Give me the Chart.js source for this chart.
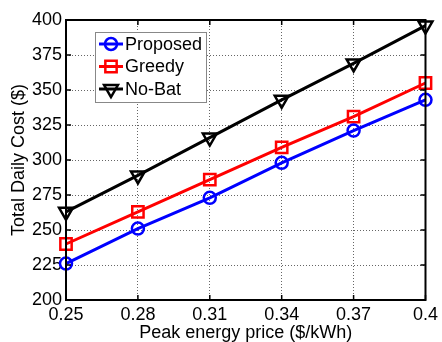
<!DOCTYPE html>
<html>
<head>
<meta charset="utf-8">
<script src="https://cdn.jsdelivr.net/npm/chart.js@4"></script>
<style>
  html, body { margin: 0; padding: 0; background: #fff; }
</style>
</head>
<body>
<canvas id="chart" width="442" height="342"></canvas>
<script>
// Peak energy price ($/kWh) on the x axis
const priceLabels = ['0.25', '0.28', '0.31', '0.34', '0.37', '0.4'];

// Total daily cost ($) per strategy
const proposedCost = [226, 251, 273, 298, 321, 343];
const greedyCost   = [240, 263, 286, 309, 331, 355];
const noBatCost    = [263, 289, 316, 343, 369, 396];

// y axis range
const yMin = 200;
const yMax = 400;
const yStep = 25;

const FONT = "'Liberation Sans', Arial, sans-serif";
Chart.defaults.font.family = FONT;
Chart.defaults.font.size = 18;
Chart.defaults.color = '#000';

// draw an open marker like the dataset does
function marker(ctx, ds, x, y) {
  ctx.save();
  ctx.lineWidth = ds.pointBorderWidth;
  ctx.strokeStyle = ds.borderColor;
  const r = ds.pointRadius;
  ctx.beginPath();
  if (ds.pointStyle === 'circle') {
    ctx.arc(x, y, r, 0, Math.PI * 2);
  } else if (ds.pointStyle === 'rect') {
    const s = r * Math.SQRT1_2;
    ctx.rect(x - s, y - s, 2 * s, 2 * s);
  } else {
    // upside-down triangle
    ctx.moveTo(x, y + r);
    ctx.lineTo(x - r * Math.sin(Math.PI / 3), y - r / 2);
    ctx.lineTo(x + r * Math.sin(Math.PI / 3), y - r / 2);
    ctx.closePath();
  }
  ctx.stroke();
  ctx.restore();
}

// black box round the plot with inward ticks
const framePlugin = {
  id: 'frame',
  afterDatasetsDraw(chart) {
    const { ctx, chartArea: a, scales } = chart;
    ctx.save();
    ctx.strokeStyle = '#000';
    ctx.lineWidth = 1.5;
    ctx.beginPath();
    scales.x.ticks.forEach((t, i) => {
      const px = scales.x.getPixelForTick(i);
      ctx.moveTo(px, a.bottom); ctx.lineTo(px, a.bottom - 5);
      ctx.moveTo(px, a.top); ctx.lineTo(px, a.top + 5);
    });
    scales.y.ticks.forEach((t, i) => {
      const py = scales.y.getPixelForTick(i);
      ctx.moveTo(a.left, py); ctx.lineTo(a.left + 5, py);
      ctx.moveTo(a.right, py); ctx.lineTo(a.right - 5, py);
    });
    ctx.stroke();
    ctx.lineWidth = 2;
    ctx.strokeRect(a.left, a.top, a.right - a.left, a.bottom - a.top);
    ctx.restore();
  }
};

// legend box in the upper left corner of the plot
const legendPlugin = {
  id: 'boxLegend',
  afterDraw(chart) {
    const { ctx, chartArea: a } = chart;
    const x0 = a.left + 29, y0 = a.top + 12;
    const w = 111, rowH = 22.5, h = 70;
    ctx.save();
    ctx.fillStyle = '#fff';
    ctx.fillRect(x0, y0, w, h);
    ctx.strokeStyle = '#888';
    ctx.lineWidth = 1;
    ctx.strokeRect(x0 + 0.5, y0 + 0.5, w, h);
    ctx.font = '18px ' + FONT;
    ctx.textBaseline = 'middle';
    chart.data.datasets.forEach((ds, i) => {
      const cy = y0 + 12 + i * rowH;
      ctx.strokeStyle = ds.borderColor;
      ctx.lineWidth = ds.borderWidth;
      ctx.beginPath();
      ctx.moveTo(x0 + 4, cy);
      ctx.lineTo(x0 + 28, cy);
      ctx.stroke();
      marker(ctx, ds, x0 + 16, cy);
      ctx.fillStyle = '#000';
      ctx.fillText(ds.label, x0 + 30, cy + 1);
    });
    ctx.restore();
  }
};

const ctx = document.getElementById('chart').getContext('2d');
const chart = new Chart(ctx, {
  type: 'line',
  data: {
    labels: priceLabels,
    datasets: [
      { label: 'Proposed', data: proposedCost, borderColor: '#0000ff', pointStyle: 'circle', pointRadius: 6 },
      { label: 'Greedy', data: greedyCost, borderColor: '#ff0000', pointStyle: 'rect', pointRadius: 8 },
      { label: 'No-Bat', data: noBatCost, borderColor: '#000000', pointStyle: 'triangle', pointRotation: 180, pointRadius: 8 }
    ].map(d => Object.assign({
      borderWidth: 3,
      pointBorderWidth: 2.5,
      pointBackgroundColor: 'rgba(0,0,0,0)',
      pointBorderColor: d.borderColor,
      tension: 0,
      fill: false
    }, d))
  },
  options: {
    responsive: false,
    animation: false,
    layout: { padding: { top: 20, right: 15, left: 0, bottom: 0 } },
    plugins: { legend: { display: false }, tooltip: { enabled: false } },
    scales: {
      x: {
        offset: false,
        grid: { color: 'rgba(0,0,0,0.6)', lineWidth: 1, drawTicks: false, borderDash: [1, 2] },
        border: { display: false, dash: [1, 2] },
        ticks: { padding: 4, maxRotation: 0, autoSkip: false },
        title: { display: true, text: 'Peak energy price ($/kWh)', padding: { top: 0, bottom: -2 } },
        afterFit(scale) { scale.height = 42; }
      },
      y: {
        min: yMin,
        max: yMax,
        grid: { color: 'rgba(0,0,0,0.6)', lineWidth: 1, drawTicks: false, borderDash: [1, 2] },
        border: { display: false, dash: [1, 2] },
        ticks: { stepSize: yStep, padding: 4 },
        title: { display: true, text: 'Total Daily Cost ($)', padding: { top: 8, bottom: 0 } },
        afterFit(scale) { scale.width = 66; }
      }
    }
  },
  plugins: [framePlugin, legendPlugin]
});
</script>
</body>
</html>
